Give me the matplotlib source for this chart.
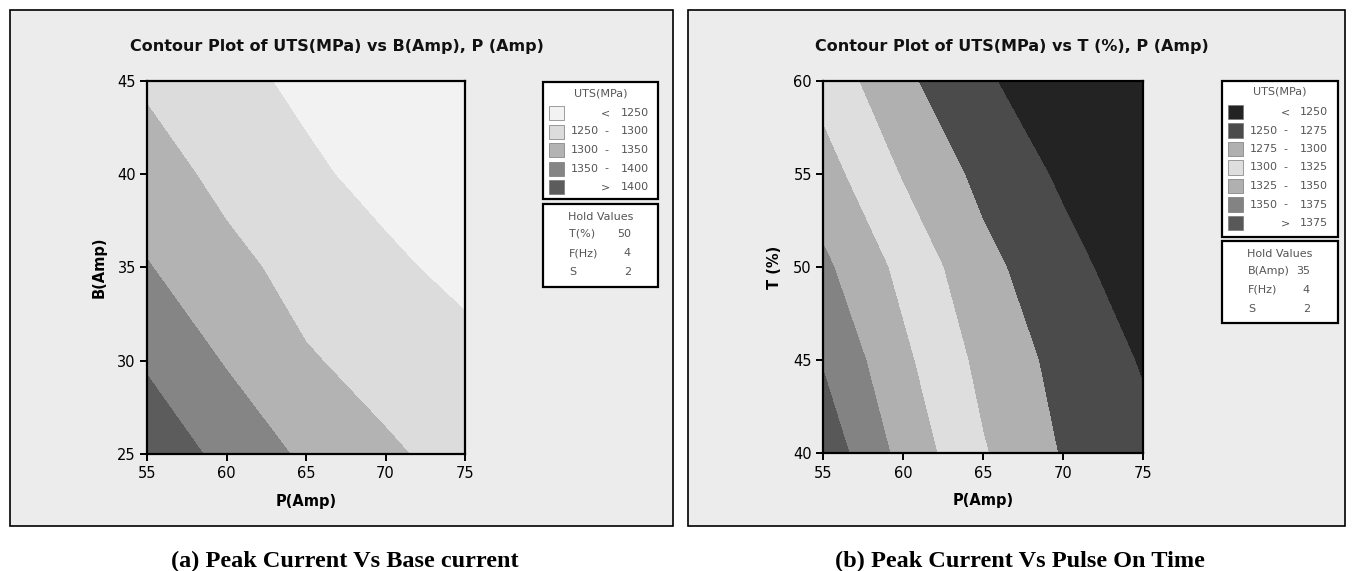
import numpy as np
import matplotlib
matplotlib.use('Agg')
import matplotlib.pyplot as plt
from matplotlib.patches import Rectangle

W, H = 1352, 571

# grid values (UTS in MPa)
p_vals = [55, 60, 65, 70, 75]

b_vals = [25, 30, 35, 40, 45]
uts_pb = [[1434, 1386, 1341, 1306, 1286],
          [1394, 1346, 1304, 1285, 1266],
          [1353, 1313, 1284, 1260, 1236],
          [1321, 1287, 1259, 1234, 1211],
          [1293, 1265, 1239, 1216, 1193]]

t_vals = [40, 45, 50, 55, 60]
uts_pt = [[1391, 1342, 1302, 1273, 1256],
          [1373, 1330, 1293, 1267, 1248],
          [1355, 1318, 1282, 1258, 1237],
          [1335, 1298, 1268, 1246, 1225],
          [1316, 1280, 1253, 1236, 1218]]

levels_a = [1100, 1250, 1300, 1350, 1400, 1600]
labels_a = [('', '<', '1250'), ('1250', '-', '1300'), ('1300', '-', '1350'),
            ('1350', '-', '1400'), ('', '>', '1400')]
colors_a = ['#f2f2f2', '#dcdcdc', '#b3b3b3', '#858585', '#5c5c5c']
hold_a = [('T(%)', '50'), ('F(Hz)', '4'), ('S', '2')]

levels_b = [1100, 1250, 1275, 1300, 1325, 1350, 1375, 1600]
labels_b = [('', '<', '1250'), ('1250', '-', '1275'), ('1275', '-', '1300'),
            ('1300', '-', '1325'), ('1325', '-', '1350'), ('1350', '-', '1375'),
            ('', '>', '1375')]
colors_b = ['#232323', '#4b4b4b', '#b0b0b0', '#dedede', '#b0b0b0', '#838383', '#585858']
hold_b = [('B(Amp)', '35'), ('F(Hz)', '4'), ('S', '2')]

fig = plt.figure(figsize=(W / 100, H / 100), dpi=100)
fig.patch.set_facecolor('white')

sans = ['DejaVu Sans']
serif = ['Liberation Serif', 'DejaVu Serif']


def fx(x):
    return x / W


def fy(y):
    return 1 - y / H


def rect(x0, y0, x1, y1, fc, lw=1.2, z=-2):
    fig.patches.append(Rectangle((fx(x0), fy(y1)), fx(x1 - x0), (y1 - y0) / H,
                                 transform=fig.transFigure, facecolor=fc,
                                 edgecolor='black', linewidth=lw, zorder=z))


def ftext(x, y, s, **kw):
    fig.text(fx(x), fy(y), s, **kw)


def contour_panel(px0, px1, ax_box, xs, ys, zs, levels, colors, title, ylabel,
                  yticks, leg_x, leg_rows, leg_labels, hold_box, hold):
    rect(px0, 10, px1, 526, '#ececec')
    x0, y0, x1, y1 = ax_box
    ax = fig.add_axes([fx(x0), fy(y1), fx(x1 - x0), (y1 - y0) / H], zorder=1)
    ax.contourf(xs, ys, np.array(zs), levels=levels, colors=colors)
    ax.set_xlim(55, 75)
    ax.set_ylim(yticks[0], yticks[-1])
    ax.set_xticks([55, 60, 65, 70, 75])
    ax.set_yticks(yticks)
    for s in ['top', 'right', 'left', 'bottom']:
        ax.spines[s].set_linewidth(1.6)
    ax.tick_params(direction='out', length=5, width=1.4, labelsize=10.5, pad=3)
    ax.tick_params(axis='x', pad=4)
    ax.set_xlabel('P(Amp)', fontsize=10.5, fontweight='bold', labelpad=9)
    ax.set_ylabel(ylabel, fontsize=10.5, fontweight='bold', labelpad=8)
    ftext((px0 + px1) / 2 - 5, 47, title, ha='center', va='center', fontsize=11.5,
          fontweight='bold', family=sans, color='#111111')

    # legend box
    lx0, lx1 = leg_x
    ly0, ly1 = leg_rows
    rect(lx0, ly0, lx1, ly1, 'white', lw=1.6, z=0)
    gray = '#555555'
    ftext((lx0 + lx1) / 2, ly0 + 11, 'UTS(MPa)', ha='center', va='center',
          fontsize=8, color=gray)
    for i, ((a, m, b), c) in enumerate(zip(leg_labels, colors)):
        yy = ly0 + 31 + i * 18.5
        fig.patches.append(Rectangle((fx(lx0 + 6), fy(yy + 7)), fx(15), 14 / H,
                                     transform=fig.transFigure, facecolor=c,
                                     edgecolor='#777777', linewidth=0.5))
        ftext(lx0 + 56, yy, a, ha='right', va='center', fontsize=8, color=gray)
        ftext(lx0 + 63, yy, m, ha='center', va='center', fontsize=8, color=gray)
        ftext(lx0 + 106, yy, b, ha='right', va='center', fontsize=8, color=gray)

    hy0, hy1 = hold_box
    rect(lx0, hy0, lx1, hy1, 'white', lw=1.6, z=0)
    ftext((lx0 + lx1) / 2, hy0 + 13, 'Hold Values', ha='center', va='center',
          fontsize=8, color=gray)
    for i, (k, v) in enumerate(hold):
        yy = hy0 + 30 + i * 19
        ftext(lx0 + 26, yy, k, ha='left', va='center', fontsize=8, color=gray)
        ftext(lx0 + 88, yy, v, ha='right', va='center', fontsize=8, color=gray)
    return ax


contour_panel(10, 673, (147, 81, 465, 454), p_vals, b_vals, uts_pb, levels_a,
              colors_a, 'Contour Plot of UTS(MPa) vs B(Amp), P (Amp)', 'B(Amp)',
              [25, 30, 35, 40, 45], (543, 658), (82, 199), labels_a,
              (204, 287), hold_a)

contour_panel(688, 1345, (823, 81, 1143, 453), p_vals, t_vals, uts_pt, levels_b,
              colors_b, 'Contour Plot of UTS(MPa) vs T (%), P (Amp)', 'T (%)',
              [40, 45, 50, 55, 60], (1222, 1338), (81, 237), labels_b,
              (241, 323), hold_b)

ftext(345, 561, '(a) Peak Current Vs Base current', ha='center', va='center',
      fontsize=17.5, fontweight='bold', family=serif)
ftext(1020, 561, '(b) Peak Current Vs Pulse On Time', ha='center', va='center',
      fontsize=17.5, fontweight='bold', family=serif)

fig.savefig('out.png', dpi=100)
